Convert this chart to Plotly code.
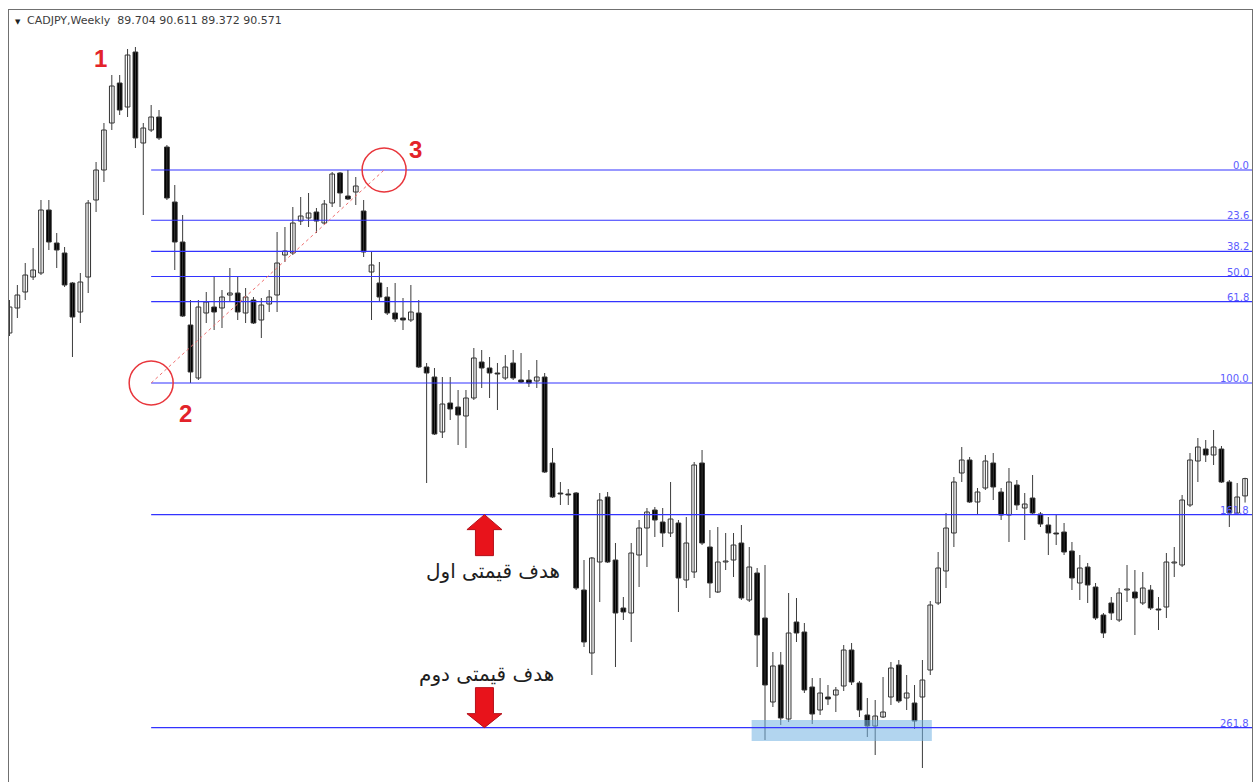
import plotly.graph_objects as go

# ---------------- data (CADJPY weekly) ----------------
header_text = "CADJPY,Weekly\u00a0\u00a089.704 90.611 89.372 90.571"

opens = [
    97.85, 99.1, 99.9, 100.65, 100.85, 104.0, 102.35, 101.85, 100.35, 98.9,
    100.65, 104.5, 106.0, 108.35, 110.35, 109.15, 111.9, 107.35, 108.0, 108.65,
    107.15, 104.4, 102.4, 98.25, 95.6, 98.85, 99.15, 99.1, 99.75, 99.85,
    98.85, 99.5, 98.5, 99.3, 99.75, 101.75, 101.85, 103.45, 103.6, 103.9,
    103.35, 104.35, 105.85, 104.7, 104.9, 103.95, 100.9, 100.35, 99.65, 98.85,
    98.6, 98.5, 98.85, 96.15, 95.65, 92.9, 94.35, 94.15, 93.7, 94.6,
    96.4, 96.1, 95.85, 95.6, 96.35, 95.5, 95.5, 95.45, 95.65, 91.35,
    89.85, 89.8, 89.85, 85.0, 81.85, 86.4, 89.65, 86.5, 84.1, 83.85,
    86.75, 88.1, 89.0, 88.4, 87.85, 88.35, 85.5, 85.9, 91.35, 87.15,
    84.9, 86.4, 86.5, 87.35, 84.5, 85.85, 83.6, 79.4, 81.25, 78.55,
    83.4, 82.9, 80.15, 79.0, 79.65, 79.75, 80.2, 82.0, 80.35, 78.75,
    78.2, 78.65, 79.65, 81.25, 79.6, 79.35, 79.65, 81.0, 84.35, 85.95,
    87.85, 90.85, 91.5, 89.4, 90.1, 91.35, 89.9, 88.75, 90.25, 89.1,
    89.6, 88.8, 88.25, 87.85, 87.9, 86.95, 85.35, 86.15, 85.15, 83.75,
    84.35, 83.5, 85.0, 84.9, 84.35, 85.0, 84.05, 84.15, 86.35, 86.25,
    89.25, 91.45, 92.05, 91.75, 92.05, 90.4, 88.85, 89.704,
]
highs = [
    99.5, 100.25, 101.35, 102.1, 104.5, 104.5, 102.85, 102.15, 100.4, 100.85,
    104.5, 106.4, 108.35, 110.75, 110.75, 112.05, 112.15, 108.35, 109.25, 109.0,
    107.25, 105.25, 103.75, 99.5, 99.5, 99.9, 100.65, 100.0, 101.1, 100.65,
    100.1, 99.65, 99.6, 100.0, 102.9, 103.15, 104.15, 104.65, 104.85, 104.1,
    104.5, 105.9, 105.9, 106.0, 105.65, 104.5, 101.9, 101.4, 100.15, 100.35,
    99.6, 100.25, 99.5, 96.35, 96.1, 95.65, 95.65, 95.0, 95.0, 97.1,
    97.0, 96.65, 96.35, 96.75, 97.0, 96.85, 96.0, 96.5, 95.85, 92.1,
    90.4, 90.05, 89.9, 86.5, 86.65, 89.85, 89.9, 87.35, 84.65, 87.35,
    88.5, 89.1, 89.15, 89.1, 90.4, 88.5, 88.65, 91.4, 92.0, 88.0,
    88.15, 87.85, 87.85, 88.25, 87.15, 86.1, 86.25, 81.9, 81.9, 84.85,
    84.6, 83.35, 80.6, 80.6, 80.25, 80.15, 82.25, 82.35, 80.45, 79.6,
    79.5, 80.65, 81.4, 81.5, 80.75, 80.25, 81.5, 84.45, 86.9, 88.85,
    90.65, 92.15, 91.65, 90.1, 91.75, 91.85, 90.1, 91.1, 90.5, 89.85,
    90.75, 88.9, 88.65, 88.75, 88.35, 87.4, 86.75, 86.35, 85.35, 83.85,
    84.65, 85.1, 86.25, 86.0, 85.9, 85.25, 84.65, 86.85, 87.15, 89.75,
    91.85, 92.6, 92.5, 93.0, 92.2, 90.5, 90.35, 90.611,
]
lows = [
    97.7, 98.6, 99.5, 100.5, 100.75, 102.0, 101.1, 100.15, 96.65, 98.35,
    99.85, 103.9, 105.4, 108.0, 108.75, 108.65, 107.1, 103.75, 107.9, 107.5,
    104.5, 101.0, 98.65, 95.35, 95.5, 98.35, 98.0, 98.1, 99.4, 98.5,
    98.35, 98.3, 97.6, 98.9, 98.9, 101.4, 101.75, 103.25, 103.15, 102.85,
    103.25, 104.15, 104.15, 104.5, 104.25, 101.65, 98.5, 99.4, 98.75, 98.4,
    98.0, 98.4, 96.1, 90.35, 92.75, 92.6, 93.5, 92.25, 92.1, 94.5,
    95.1, 94.6, 94.0, 95.5, 95.5, 95.35, 95.15, 95.1, 90.85, 89.6,
    89.25, 89.25, 85.0, 82.15, 80.75, 84.4, 86.35, 81.15, 83.5, 82.4,
    85.15, 86.15, 87.65, 87.15, 87.65, 83.9, 85.1, 85.6, 87.25, 84.6,
    84.85, 86.0, 85.65, 84.5, 84.4, 81.15, 77.5, 79.15, 78.25, 78.4,
    82.4, 79.85, 78.3, 78.75, 79.25, 78.9, 79.95, 80.25, 78.65, 77.65,
    76.75, 78.6, 79.25, 79.35, 79.0, 78.05, 76.1, 80.75, 84.25, 85.1,
    87.15, 90.4, 89.35, 88.75, 90.0, 89.5, 88.5, 87.4, 89.0, 87.5,
    88.75, 88.15, 86.75, 87.25, 86.75, 85.0, 84.5, 84.35, 83.5, 82.6,
    83.5, 83.4, 84.4, 82.75, 84.25, 84.0, 83.0, 83.6, 85.65, 86.15,
    89.15, 90.4, 91.4, 91.25, 90.35, 88.15, 88.75, 89.372,
]
closes = [
    99.15, 99.75, 100.75, 101.0, 104.0, 102.4, 102.0, 100.25, 98.65, 100.4,
    104.35, 106.0, 108.0, 110.2, 109.0, 111.75, 107.6, 108.1, 108.65, 107.6,
    104.6, 102.4, 98.7, 95.9, 99.15, 99.4, 98.9, 99.65, 99.85, 98.9,
    99.65, 98.35, 99.25, 99.65, 101.35, 101.95, 103.35, 103.7, 103.85, 103.45,
    104.3, 105.8, 104.85, 104.55, 105.2, 101.9, 101.25, 99.65, 98.85, 98.55,
    98.5, 98.9, 96.15, 95.85, 92.8, 94.3, 94.05, 93.75, 94.6, 96.6,
    96.1, 95.85, 95.8, 96.15, 95.6, 95.4, 95.35, 95.65, 90.9, 89.65,
    89.8, 89.75, 85.1, 82.4, 86.6, 89.5, 86.4, 83.85, 83.9, 86.85,
    88.1, 88.9, 88.5, 87.85, 88.55, 85.6, 87.35, 91.25, 87.35, 85.35,
    86.4, 86.45, 87.25, 84.6, 86.15, 82.75, 80.25, 81.2, 78.6, 82.85,
    82.85, 80.0, 78.8, 79.85, 79.55, 80.0, 82.0, 80.4, 79.0, 78.2,
    78.7, 78.9, 81.1, 79.45, 79.85, 78.45, 80.5, 84.25, 86.1, 88.1,
    90.4, 91.5, 89.4, 89.9, 91.45, 90.15, 88.75, 90.4, 89.25, 89.3,
    88.85, 88.3, 87.85, 87.8, 86.9, 85.6, 86.1, 85.25, 83.6, 82.85,
    83.85, 84.85, 85.05, 84.6, 85.1, 84.1, 84.0, 86.4, 86.4, 89.5,
    91.5, 92.15, 91.75, 92.15, 90.4, 88.85, 89.65, 90.571,
]

# Fibonacci tool anchors (point 2 = swing low, point 3 = swing high)
fib_low = 95.35
fib_high = 106.0
fib_low_bar = 18.0
fib_high_bar = 47.6
fib_ratios = [0.0, 23.6, 38.2, 50.0, 61.8, 100.0, 161.8, 261.8]
fib_labels = ["0.0", "23.6", "38.2", "50.0", "61.8", "100.0", "161.8", "261.8"]

# swing labels
swing_names = ["1", "2", "3"]
swing_x = [11.56, 22.3, 51.65]
swing_y = [111.6, 93.85, 107.05]

# target texts (Persian)
target_texts = ["هدف قیمتی اول", "هدف قیمتی دوم"]
target_x = [61.4, 60.55]
target_y = [85.95, 80.8]
arrow_x = 60.35

# support zone box
zone_x = [94.3, 117.2]
zone_y = [77.45, 78.5]

x_range = [-0.064, 157.88]
y_range = [75.4, 114.0]

# ---------------- figure ----------------
n = len(opens)
idx = list(range(n))

wx, wy = [], []
for i in idx:
    wx += [i, i, None]
    wy += [lows[i], highs[i], None]

bases = [min(o, c) for o, c in zip(opens, closes)]
heights = [max(abs(c - o), 0.04) for o, c in zip(opens, closes)]
fills = ["#ffffff" if c >= o else "#000000" for o, c in zip(opens, closes)]

fig = go.Figure()
fig.add_trace(go.Scatter(x=wx, y=wy, mode="lines",
                         line=dict(color="#3c3c3c", width=1),
                         hoverinfo="skip", showlegend=False))
fig.add_trace(go.Bar(x=idx, y=heights, base=bases, width=0.6,
                     marker=dict(color=fills, line=dict(color="#333333", width=1)),
                     showlegend=False, hoverinfo="skip"))

shapes = []
annotations = []

# zone
shapes.append(dict(type="rect", xref="x", yref="y",
                   x0=zone_x[0], x1=zone_x[1], y0=zone_y[0], y1=zone_y[1],
                   fillcolor="rgba(115,178,225,0.55)", line=dict(width=0), layer="above"))

# fib levels
for r, lab in zip(fib_ratios, fib_labels):
    lvl = fib_high - r / 100.0 * (fib_high - fib_low)
    shapes.append(dict(type="line", xref="x", yref="y",
                       x0=fib_low_bar, x1=x_range[1], y0=lvl, y1=lvl,
                       line=dict(color="#3333ff", width=1.2)))
    annotations.append(dict(xref="paper", yref="y", x=1, y=lvl, xanchor="right",
                            yanchor="bottom", xshift=-1, yshift=-3, text=lab,
                            showarrow=False,
                            font=dict(family="DejaVu Sans", size=10, color="#5c5cff")))

# dashed trend line between anchors
shapes.append(dict(type="line", xref="x", yref="y",
                   x0=fib_low_bar, y0=fib_low, x1=fib_high_bar, y1=fib_high,
                   line=dict(color="#f07070", width=1, dash="3px,3px")))

# circles around anchors
for cx, cy in [(fib_low_bar, fib_low), (fib_high_bar, fib_high)]:
    shapes.append(dict(type="circle", xref="x", yref="y",
                       xsizemode="pixel", ysizemode="pixel",
                       xanchor=cx, yanchor=cy, x0=-22, x1=22, y0=-22, y1=22,
                       line=dict(color="#e8363c", width=1.5)))

# red arrows
lvl_1618 = fib_high - 1.618 * (fib_high - fib_low)
lvl_2618 = fib_high - 2.618 * (fib_high - fib_low)
up_path = "M 0 0 L 17.5 -15 L 9 -15 L 9 -41 L -9 -41 L -9 -15 L -17.5 -15 Z"
down_path = "M 0 0 L 17.5 14 L 9 14 L 9 40 L -9 40 L -9 14 L -17.5 14 Z"
shapes.append(dict(type="path", xref="x", yref="y", xsizemode="pixel", ysizemode="pixel",
                   xanchor=arrow_x, yanchor=lvl_1618, path=up_path,
                   fillcolor="#e8131b", line=dict(color="#b3101a", width=1)))
shapes.append(dict(type="path", xref="x", yref="y", xsizemode="pixel", ysizemode="pixel",
                   xanchor=arrow_x, yanchor=lvl_2618, path=down_path,
                   fillcolor="#e8131b", line=dict(color="#b3101a", width=1)))

for t, x, y in zip(swing_names, swing_x, swing_y):
    annotations.append(dict(xref="x", yref="y", x=x, y=y, text="<b>%s</b>" % t,
                            showarrow=False,
                            font=dict(family="Liberation Sans", size=24, color="#e3232a")))

for t, x, y in zip(target_texts, target_x, target_y):
    annotations.append(dict(xref="x", yref="y", x=x, y=y, text=t, showarrow=False,
                            font=dict(family="DejaVu Sans", size=20, color="#1e1e1e")))

# header
annotations.append(dict(xref="paper", yref="paper", x=0, y=1, xanchor="left", yanchor="top",
                        xshift=4, yshift=-6, text="▼", showarrow=False,
                        font=dict(family="DejaVu Sans", size=7, color="#222222")))
annotations.append(dict(xref="paper", yref="paper", x=0, y=1, xanchor="left", yanchor="top",
                        xshift=16, yshift=-2, text=header_text, showarrow=False,
                        font=dict(family="DejaVu Sans", size=11, color="#3c3c3c")))

fig.update_layout(
    width=1254, height=782,
    margin=dict(l=9, r=2, t=10, b=0),
    paper_bgcolor="#ffffff", plot_bgcolor="#ffffff",
    shapes=shapes, annotations=annotations,
    showlegend=False,
    xaxis=dict(range=x_range, showgrid=False, zeroline=False, showticklabels=False,
               ticks="", showline=True, mirror=True, linecolor="#707070", linewidth=1),
    yaxis=dict(range=y_range, showgrid=False, zeroline=False, showticklabels=False,
               ticks="", showline=True, mirror=True, linecolor="#707070", linewidth=1),
)

fig.write_html("out.html")
